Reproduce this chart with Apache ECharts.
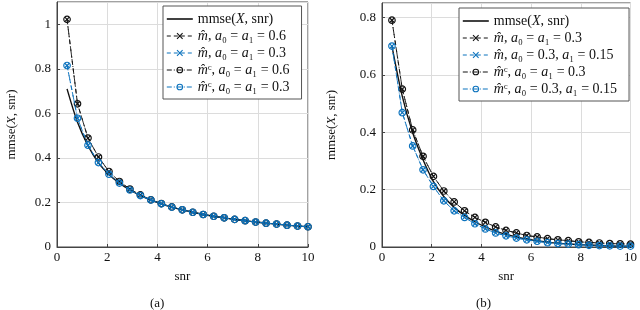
<!DOCTYPE html>
<html><head><meta charset="utf-8">
<script src="https://cdn.jsdelivr.net/npm/echarts@6/dist/echarts.min.js"></script>
<style>html,body{margin:0;padding:0;background:#fff}#c{width:640px;height:310px}</style>
</head><body><div id="c"></div>
<script>
// ---- data ----
const snr = [0.4, 0.817, 1.235, 1.652, 2.070, 2.487, 2.904, 3.322, 3.739, 4.157, 4.574, 4.991, 5.409, 5.826, 6.243, 6.661, 7.078, 7.496, 7.913, 8.330, 8.748, 9.165, 9.583, 10];
const xTicks = [0, 2, 4, 6, 8, 10];
const yTicksA = [0, 0.2, 0.4, 0.6, 0.8, 1];
const yTicksB = [0, 0.2, 0.4, 0.6, 0.8];
// panel (a)
const mmseA   = [0.710, 0.560, 0.455, 0.378, 0.326, 0.287, 0.256, 0.231, 0.211, 0.194, 0.179, 0.167, 0.156, 0.146, 0.138, 0.131, 0.124, 0.118, 0.112, 0.107, 0.103, 0.098, 0.094, 0.091];
const mHatA06 = [1.022, 0.643, 0.489, 0.404, 0.339, 0.294, 0.260, 0.234, 0.212, 0.195, 0.180, 0.167, 0.156, 0.146, 0.138, 0.131, 0.124, 0.118, 0.112, 0.107, 0.103, 0.098, 0.094, 0.091];
const mHatA03 = [0.815, 0.578, 0.457, 0.379, 0.327, 0.287, 0.256, 0.231, 0.211, 0.194, 0.179, 0.167, 0.156, 0.146, 0.138, 0.131, 0.124, 0.118, 0.112, 0.107, 0.103, 0.098, 0.094, 0.091];
const mcA06   = [1.022, 0.643, 0.489, 0.404, 0.339, 0.294, 0.260, 0.234, 0.212, 0.195, 0.180, 0.167, 0.156, 0.146, 0.138, 0.131, 0.124, 0.118, 0.112, 0.107, 0.103, 0.098, 0.094, 0.091];
const mcA03   = [0.815, 0.578, 0.457, 0.379, 0.327, 0.287, 0.256, 0.231, 0.211, 0.194, 0.179, 0.167, 0.156, 0.146, 0.138, 0.131, 0.124, 0.118, 0.112, 0.107, 0.103, 0.098, 0.094, 0.091];
// panel (b)
const mmseB   = [0.700, 0.525, 0.398, 0.304, 0.228, 0.176, 0.138, 0.110, 0.088, 0.070, 0.055, 0.044, 0.035, 0.028, 0.022, 0.017, 0.013, 0.011, 0.008, 0.007, 0.005, 0.004, 0.003, 0.003];
const mHatB1  = [0.790, 0.550, 0.408, 0.316, 0.246, 0.195, 0.157, 0.126, 0.103, 0.086, 0.070, 0.058, 0.049, 0.040, 0.035, 0.029, 0.025, 0.022, 0.018, 0.016, 0.014, 0.012, 0.011, 0.010];
const mHatB2  = [0.700, 0.468, 0.352, 0.269, 0.211, 0.161, 0.126, 0.103, 0.081, 0.063, 0.049, 0.039, 0.031, 0.025, 0.020, 0.015, 0.012, 0.010, 0.008, 0.006, 0.005, 0.004, 0.003, 0.003];
const mcB1    = [0.790, 0.550, 0.408, 0.316, 0.246, 0.195, 0.157, 0.126, 0.103, 0.086, 0.070, 0.058, 0.049, 0.040, 0.035, 0.029, 0.025, 0.022, 0.018, 0.016, 0.014, 0.012, 0.011, 0.010];
const mcB2    = [0.700, 0.468, 0.352, 0.269, 0.211, 0.161, 0.126, 0.103, 0.081, 0.063, 0.049, 0.039, 0.031, 0.025, 0.020, 0.015, 0.012, 0.010, 0.008, 0.006, 0.005, 0.004, 0.003, 0.003];

const legendA = {
  'A0': '{r|mmse(}{i|X}{r|, snr)}',
  'A1': '{i|m̂}{r|, }{i|a}{r|₀ = }{i|a}{r|₁ = 0.6}',
  'A2': '{i|m̂}{r|, }{i|a}{r|₀ = }{i|a}{r|₁ = 0.3}',
  'A3': '{i|m̂}{r|ᶜ, }{i|a}{r|₀ = }{i|a}{r|₁ = 0.6}',
  'A4': '{i|m̂}{r|ᶜ, }{i|a}{r|₀ = }{i|a}{r|₁ = 0.3}'
};
const legendB = {
  'B0': '{r|mmse(}{i|X}{r|, snr)}',
  'B1': '{i|m̂}{r|, }{i|a}{r|₀ = }{i|a}{r|₁ = 0.3}',
  'B2': '{i|m̂}{r|, }{i|a}{r|₀ = 0.3, }{i|a}{r|₁ = 0.15}',
  'B3': '{i|m̂}{r|ᶜ, }{i|a}{r|₀ = }{i|a}{r|₁ = 0.3}',
  'B4': '{i|m̂}{r|ᶜ, }{i|a}{r|₀ = 0.3, }{i|a}{r|₁ = 0.15}'
};

// ---- styling ----
const FONT = '"Liberation Serif", "DejaVu Serif", serif';
const BLACK = '#111';
const BLUE = '#0b72bd';
const CROSS = 'path://M0,0L10,10M0,10L10,0';
const rich = {
  r: {fontFamily: FONT, fontSize: 14, lineHeight: 16, color: '#111'},
  i: {fontFamily: FONT, fontSize: 14, lineHeight: 16, fontStyle: 'italic', color: '#111'}
};
const richAxis = {
  r: {fontFamily: FONT, fontSize: 13, color: '#111'},
  i: {fontFamily: FONT, fontSize: 13, fontStyle: 'italic', color: '#111'}
};
const pairs = a => snr.map((x, i) => [x, a[i]]);

function mmseSeries(name, data, idx) {
  return {name, type: 'line', xAxisIndex: idx, yAxisIndex: idx, data: pairs(data),
    smooth: 0.3, showSymbol: false, symbol: 'none', z: 3,
    lineStyle: {color: BLACK, width: 1.4, type: 'solid'}, itemStyle: {color: BLACK}};
}
function estSeries(name, data, idx, color, kind, z) {
  const isCross = kind === 'cross';
  return {name, type: 'line', xAxisIndex: idx, yAxisIndex: idx, data: pairs(data),
    symbol: isCross ? CROSS : 'circle', symbolSize: isCross ? 4.5 : 6.5, z,
    lineStyle: {color, width: 0.9, type: isCross ? [4, 3] : [5, 2, 1, 2]},
    itemStyle: {color: 'rgba(255,255,255,0)', borderColor: color, borderWidth: 1.2}};
}

const xAxisBase = (idx) => ({
  gridIndex: idx, type: 'value', min: 0, max: 10, interval: 2,
  name: 'snr', nameLocation: 'middle', nameGap: 23,
  nameTextStyle: {fontFamily: FONT, fontSize: 13, color: '#111'},
  axisLine: {show: true, lineStyle: {color: '#444', width: 1}},
  axisTick: {show: true, inside: true, length: 3, lineStyle: {color: '#444'}},
  axisLabel: {fontFamily: FONT, fontSize: 13, color: '#111', margin: 4},
  splitLine: {show: true, lineStyle: {color: '#dcdcdc', width: 1}}
});
const yAxisBase = (idx, max, gap) => ({
  gridIndex: idx, type: 'value', min: 0, max, interval: 0.2,
  name: '{r|mmse(}{i|X}{r|, snr)}', nameLocation: 'middle', nameGap: gap, nameRotate: 90,
  nameTextStyle: {fontFamily: FONT, fontSize: 13, color: '#111', rich: richAxis},
  axisLine: {show: true, lineStyle: {color: '#444', width: 1}},
  axisTick: {show: true, inside: true, length: 3, lineStyle: {color: '#444'}},
  axisLabel: {fontFamily: FONT, fontSize: 13, color: '#111', margin: 6,
    showMaxLabel: false},
  splitLine: {show: true, lineStyle: {color: '#dcdcdc', width: 1}}
});

const legendBase = (map, left, top) => ({
  orient: 'vertical', left, top,
  data: Object.keys(map).map((n, i) => i === 0
    ? {name: n, itemStyle: {opacity: 0}, lineStyle: {width: 1.6, color: BLACK}}
    : {name: n}),
  formatter: n => map[n], textStyle: {rich, fontFamily: FONT, fontSize: 14},
  itemWidth: 26, itemHeight: 7, itemGap: 3,
  lineStyle: {width: 1},
  itemStyle: {borderWidth: 1.1},
  backgroundColor: '#fff', borderColor: '#555', borderWidth: 1,
  padding: [6, 12, 5, 3], borderRadius: 0, selectedMode: false
});

const chart = echarts.init(document.getElementById('c'), null, {renderer: 'canvas'});
chart.setOption({
  animation: false,
  backgroundColor: '#fff',
  grid: [
    {left: 57, top: 2, width: 251, height: 245, show: true, borderColor: '#444', borderWidth: 1, backgroundColor: 'transparent'},
    {left: 382, top: 3, width: 251, height: 244, show: true, borderColor: '#444', borderWidth: 1, backgroundColor: 'transparent'}
  ],
  xAxis: [xAxisBase(0), xAxisBase(1)],
  yAxis: [yAxisBase(0, 1.1, 39), yAxisBase(1, 0.85, 44)],
  legend: [legendBase(legendA, 163, 6), legendBase(legendB, 459, 8)],
  series: [
    mmseSeries('A0', mmseA, 0),
    estSeries('A1', mHatA06, 0, BLACK, 'cross', 4),
    estSeries('A2', mHatA03, 0, BLUE, 'cross', 6),
    estSeries('A3', mcA06, 0, BLACK, 'circle', 5),
    estSeries('A4', mcA03, 0, BLUE, 'circle', 7),
    mmseSeries('B0', mmseB, 1),
    estSeries('B1', mHatB1, 1, BLACK, 'cross', 4),
    estSeries('B2', mHatB2, 1, BLUE, 'cross', 6),
    estSeries('B3', mcB1, 1, BLACK, 'circle', 5),
    estSeries('B4', mcB2, 1, BLUE, 'circle', 7)
  ],
  graphic: [
    {type: 'text', left: 150, top: 297, style: {text: '(a)', font: '13px ' + FONT, fill: '#111'}},
    {type: 'text', left: 476, top: 297, style: {text: '(b)', font: '13px ' + FONT, fill: '#111'}}
  ]
});
</script></body></html>
